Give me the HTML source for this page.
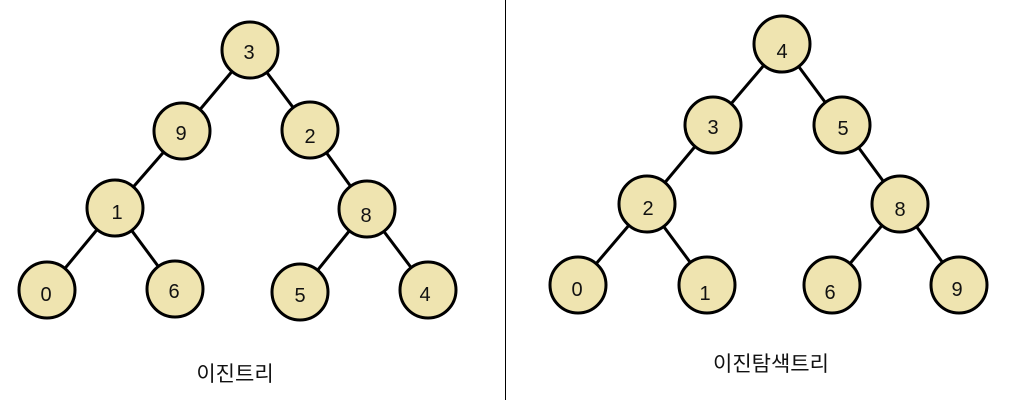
<!DOCTYPE html>
<html><head><meta charset="utf-8"><style>
html,body{margin:0;padding:0;background:#fff;}
svg{display:block;}
text{font-family:"Liberation Sans","Noto Sans CJK KR",sans-serif;fill:#111;}
</style></head><body>
<svg width="1014" height="400" viewBox="0 0 1014 400">
<line x1="505.5" y1="0" x2="505.5" y2="400" stroke="#000" stroke-width="1"/>
<g stroke="#000" stroke-width="3">
<line x1="250" y1="50" x2="182" y2="131"/><line x1="250" y1="50" x2="310" y2="130"/>
<line x1="182" y1="131" x2="115" y2="208"/><line x1="310" y1="130" x2="367" y2="209"/>
<line x1="115" y1="208" x2="47" y2="290"/><line x1="115" y1="208" x2="175" y2="289"/>
<line x1="367" y1="209" x2="300" y2="292"/><line x1="367" y1="209" x2="428" y2="290"/>
<line x1="782" y1="44" x2="713" y2="125"/><line x1="782" y1="44" x2="842" y2="125"/>
<line x1="713" y1="125" x2="647" y2="204"/><line x1="842" y1="125" x2="900" y2="204"/>
<line x1="647" y1="204" x2="578" y2="285"/><line x1="647" y1="204" x2="707" y2="285"/>
<line x1="900" y1="204" x2="832" y2="285"/><line x1="900" y1="204" x2="959" y2="285"/>
</g>
<g fill="#efe4b0" stroke="#000" stroke-width="3">
<circle cx="250" cy="50" r="28"/><circle cx="182" cy="131" r="28"/><circle cx="310" cy="130" r="28"/>
<circle cx="115" cy="208" r="28"/><circle cx="367" cy="209" r="28"/>
<circle cx="47" cy="290" r="28"/><circle cx="175" cy="289" r="28"/><circle cx="300" cy="292" r="28"/><circle cx="428" cy="290" r="28"/>
<circle cx="782" cy="44" r="28"/><circle cx="713" cy="125" r="28"/><circle cx="842" cy="125" r="28"/>
<circle cx="647" cy="204" r="28"/><circle cx="900" cy="204" r="28"/>
<circle cx="578" cy="285" r="28"/><circle cx="707" cy="285" r="28"/><circle cx="832" cy="285" r="28"/><circle cx="959" cy="285" r="28"/>
</g>
<g font-size="20" text-anchor="middle">
<text x="249" y="59">3</text><text x="181" y="140">9</text><text x="310" y="143">2</text>
<text x="117" y="219">1</text><text x="366" y="222">8</text>
<text x="46" y="301">0</text><text x="174" y="298">6</text><text x="300" y="302">5</text><text x="425" y="301">4</text>
<text x="782" y="58">4</text><text x="713" y="134">3</text><text x="843" y="135">5</text>
<text x="648" y="215">2</text><text x="900" y="216">8</text>
<text x="577" y="296">0</text><text x="705" y="300">1</text><text x="830" y="299">6</text><text x="957" y="296">9</text>
</g>
<g font-size="21" text-anchor="middle">
<text x="235" y="381">이진트리</text>
<text x="771" y="371">이진탐색트리</text>
</g>
</svg>
</body></html>
